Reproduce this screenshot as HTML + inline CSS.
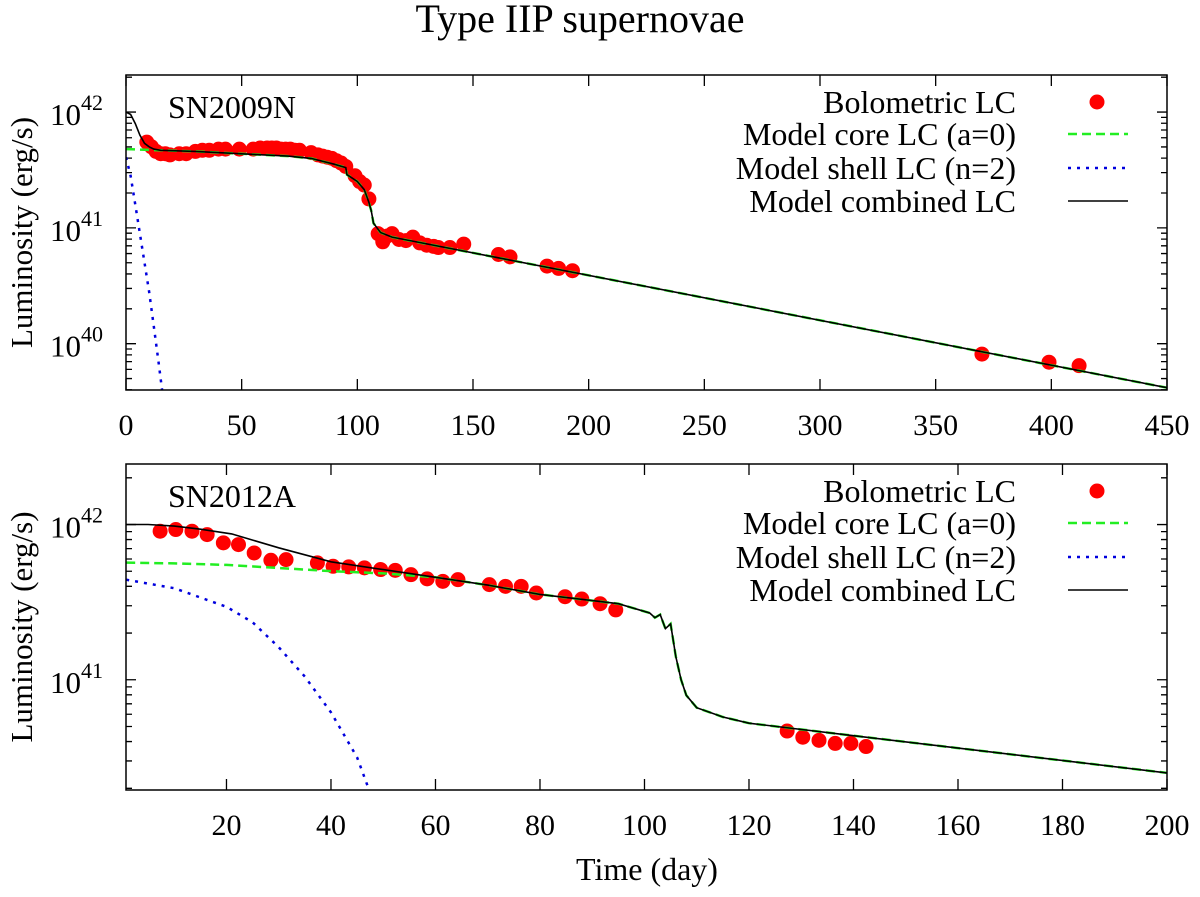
<!DOCTYPE html>
<html><head><meta charset="utf-8"><style>
body{margin:0;background:#fff}
svg,svg text{font-family:"Liberation Serif","DejaVu Serif",serif}
</style></head><body>
<svg id="c" width="1200" height="892">
<text x="580" y="32" font-size="40" text-anchor="middle" font-family="Liberation Serif, serif">Type IIP supernovae</text>
<text x="647" y="880" font-size="32" text-anchor="middle" font-family="Liberation Serif, serif">Time (day)</text>
</svg>
<script>
// ---- SN2009N data ----
const p1ObsDays=[9,11,13,15,17,19,23,26,30,33,36,40,43,49,55,58,61,63,65,67,69,71,73,75,80,83,85,87,89,91,93,95,99,101,103,105,109,111,113,115,118,121,124,127,130,133,135,140,146,161,166,182,187,193,370,399,412];
const p1ObsLog=[41.74,41.70,41.66,41.64,41.64,41.63,41.64,41.64,41.66,41.67,41.67,41.68,41.68,41.68,41.68,41.69,41.69,41.69,41.69,41.68,41.68,41.68,41.67,41.67,41.65,41.63,41.62,41.61,41.60,41.58,41.56,41.53,41.45,41.40,41.37,41.25,40.95,40.88,40.93,40.95,40.90,40.89,40.92,40.87,40.85,40.84,40.83,40.83,40.86,40.77,40.75,40.67,40.65,40.63,39.91,39.84,39.81];
const p1CombDays=[0,2,4,6,8,10,12,15,30,50,70,80,90,95,95.5,100,103,105,106,107,110,115,120,450];
const p1CombLog=[42.0,41.98,41.9,41.8,41.73,41.7,41.68,41.67,41.66,41.64,41.62,41.6,41.55,41.52,41.46,41.40,41.33,41.22,41.15,41.04,40.96,40.92,40.90,39.62];
const p1CoreDays=[0,15,30,50,70,80,90,95,95.5,100,103,105,106,107,110,115,120,450];
const p1CoreLog=[41.68,41.67,41.66,41.64,41.62,41.6,41.55,41.52,41.46,41.40,41.33,41.22,41.15,41.04,40.96,40.92,40.90,39.62];
const p1ShellDays=[0,2,4,6,8,10,12,14,15.6];
const p1ShellLog=[41.61,41.45,41.2,40.95,40.7,40.45,40.15,39.85,39.6];
// ---- SN2012A data ----
const p2ObsDays=[7.3,10.3,13.4,16.3,19.4,22.3,25.3,28.5,31.4,37.4,40.4,43.4,46.4,49.5,52.3,55.3,58.4,61.4,64.3,70.3,73.4,76.4,79.3,84.8,88,91.5,94.5,127.3,130.3,133.4,136.5,139.5,142.4];
const p2ObsLog=[41.957,41.968,41.957,41.935,41.882,41.871,41.817,41.770,41.774,41.753,41.731,41.727,41.721,41.710,41.705,41.677,41.650,41.634,41.645,41.613,41.602,41.602,41.559,41.535,41.52,41.49,41.45,40.67,40.63,40.61,40.59,40.59,40.57];
const p2CombDays=[0.8,5,10,15,21,30,40,50,60,70,80,90,95,101,102,103,104,105,106,107,108,110,115,120,140,160,200];
const p2CombLog=[42.0,42.0,41.99,41.97,41.94,41.85,41.76,41.71,41.66,41.61,41.55,41.51,41.49,41.43,41.40,41.42,41.33,41.36,41.15,41.0,40.9,40.82,40.76,40.72,40.64,40.56,40.40];
const p2CoreDays=[0.8,10,20,30,40,50,60,70,80,90,95,101,102,103,104,105,106,107,108,110,115,120,140,160,200];
const p2CoreLog=[41.755,41.75,41.74,41.72,41.70,41.685,41.66,41.61,41.55,41.51,41.49,41.43,41.40,41.42,41.33,41.36,41.15,41.0,40.9,40.82,40.76,40.72,40.64,40.56,40.40];
const p2ShellDays=[0.8,10,20,25,30,35,40,45,47.3];
const p2ShellLog=[41.645,41.59,41.47,41.37,41.21,41.02,40.79,40.50,40.29];
const p1XTicks=[0,50,100,150,200,250,300,350,400,450];
const p2XTicks=[20,40,60,80,100,120,140,160,180,200];
const legendLabels=["Bolometric LC","Model core LC (a=0)","Model shell LC (n=2)","Model combined LC"];

const svg=document.getElementById('c');
const NS='http://www.w3.org/2000/svg';
const FF='Liberation Serif, serif';
function mk(tag,attrs,parent){const e=document.createElementNS(NS,tag);for(const k in attrs)e.setAttribute(k,attrs[k]);if(tag==='text')e.setAttribute('font-family',FF);(parent||svg).appendChild(e);return e;}

function panel(o){
  const g=mk('g',{});
  
  
  const X=v=>o.L+(v-o.x0)/(o.x1-o.x0)*(o.R-o.L);
  const Y=v=>o.B-(v-o.y0)/(o.y1-o.y0)*(o.B-o.T);
  const clipId=o.name+'-clip';
  const cp=mk('clipPath',{id:clipId},g);mk('rect',{x:o.L,y:o.T,width:o.R-o.L,height:o.B-o.T},cp);
  for(let d=Math.floor(o.y0);d<=Math.ceil(o.y1);d++){
    for(let m=1;m<=9;m++){
      const lv=d+Math.log10(m);if(lv<o.y0||lv>o.y1)continue;
      const y=Y(lv),len=m===1?10:6;
      const t=mk('path',{d:`M${o.L},${y}h${len}M${o.R},${y}h${-len}`,stroke:'#000','stroke-width':1.3},g);
      
      
      if(m===1){
        const tx=mk('text',{x:o.L-76,y:y+13,'font-size':31},g);
        
        
        tx.textContent='10';
        const sp=mk('tspan',{dy:-15,'font-size':22},tx);sp.textContent=String(d);
      }
    }
  }
  o.xticks.forEach(v=>{
    const x=X(v);
    const t=mk('path',{d:`M${x},${o.B}v-11M${x},${o.T}v11`,stroke:'#000','stroke-width':1.3},g);
    
    
    const tx=mk('text',{x:x,y:o.B+45,'font-size':30,'text-anchor':'middle'},g);
    
    
    tx.textContent=v;
  });
  const yl=mk('text',{x:0,y:0,'font-size':31,'text-anchor':'middle',transform:`translate(32,${(o.T+o.B)/2}) rotate(-90)`},g);
  
  
  yl.textContent='Luminosity (erg/s)';
  const lbl=mk('text',{x:168,y:o.T+43,'font-size':32},g);
  
  
  lbl.textContent=o.label;
  const pts=(ds,ls)=>ds.map((d,i)=>X(d).toFixed(1)+','+Y(ls[i]).toFixed(1)).join(' ');
  const cg=mk('g',{'clip-path':`url(#${clipId})`},g);
  const obs=mk('g',{fill:'#f00'},cg);
  
  
  o.obsD.forEach((d,i)=>{
    const c=mk('circle',{cx:X(d),cy:Y(o.obsL[i]),r:7.5},obs);
    
    
  });
  const core=mk('polyline',{points:pts(o.coreD,o.coreL),fill:'none',stroke:'#2e2','stroke-width':2.5,'stroke-dasharray':'9,5'},cg);
  
  
  const shell=mk('polyline',{points:pts(o.shellD,o.shellL),fill:'none',stroke:'#00d','stroke-width':2.5,'stroke-dasharray':'3,6'},cg);
  
  
  const comb=mk('polyline',{points:pts(o.combD,o.combL),fill:'none',stroke:'#000','stroke-width':1.6},cg);
  
  
  const box=mk('rect',{x:o.L,y:o.T,width:o.R-o.L,height:o.B-o.T,fill:'none',stroke:'#000','stroke-width':1.5},g);
  
  
  const lg=mk('g',{},g);
  
  
  const rows=[o.T+27,o.T+59,o.T+93,o.T+126];
  legendLabels.forEach((s,i)=>{
    const t=mk('text',{x:1016,y:rows[i]+11,'font-size':32,'text-anchor':'end'},lg);
    
    
    t.textContent=s;
  });
  mk('circle',{cx:1097,cy:rows[0],r:7.5,fill:'#f00'},lg);
  mk('line',{x1:1068,x2:1128,y1:rows[1],y2:rows[1],stroke:'#2e2','stroke-width':2.5,'stroke-dasharray':'9,5'},lg);
  mk('line',{x1:1068,x2:1128,y1:rows[2],y2:rows[2],stroke:'#00d','stroke-width':2.5,'stroke-dasharray':'3,6'},lg);
  mk('line',{x1:1068,x2:1128,y1:rows[3],y2:rows[3],stroke:'#000','stroke-width':1.6},lg);
}
panel({name:'panel-sn2009n',label:'SN2009N',L:126,R:1167,T:75,B:390,x0:0,x1:450,y0:39.6,y1:42.32,xticks:p1XTicks,
  obsD:p1ObsDays,obsL:p1ObsLog,combD:p1CombDays,combL:p1CombLog,coreD:p1CoreDays,coreL:p1CoreLog,shellD:p1ShellDays,shellL:p1ShellLog});
panel({name:'panel-sn2012a',label:'SN2012A',L:126,R:1167,T:464,B:790,x0:0.77,x1:200,y0:40.29,y1:42.39,xticks:p2XTicks,
  obsD:p2ObsDays,obsL:p2ObsLog,combD:p2CombDays,combL:p2CombLog,coreD:p2CoreDays,coreL:p2CoreLog,shellD:p2ShellDays,shellL:p2ShellLog});
</script>
</body></html>
